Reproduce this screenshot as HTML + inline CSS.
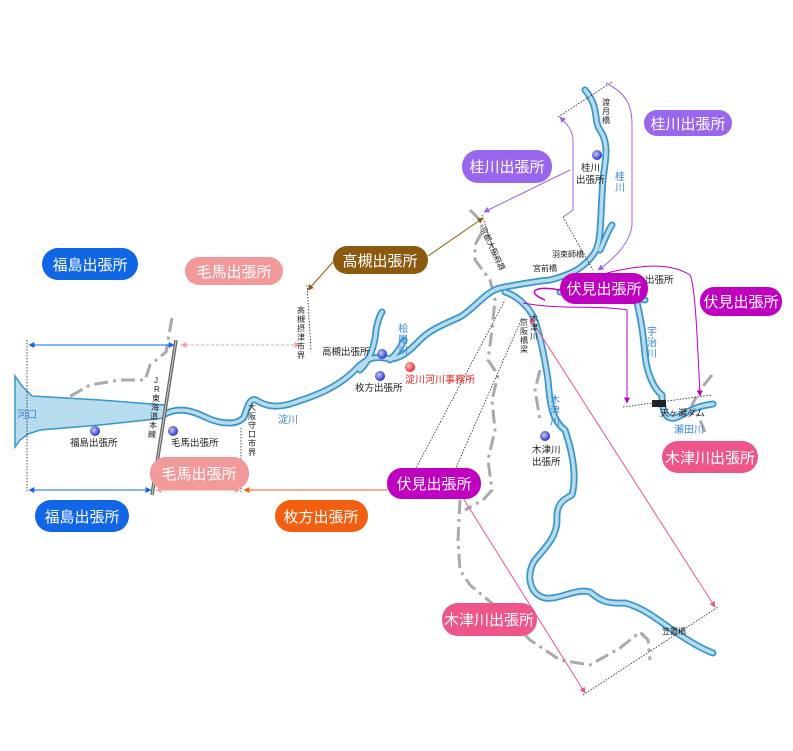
<!DOCTYPE html>
<html><head><meta charset="utf-8"><style>
html,body{margin:0;padding:0;background:#fff;}
svg{display:block;font-family:"Liberation Sans","Noto Sans CJK JP",sans-serif;}
.pl{fill:#fff;font-size:15px;text-anchor:middle;}
.sm{font-size:9.5px;fill:#222;}
.bl{font-size:10px;fill:#3a86d8;}
.gb{fill:none;stroke:#aaa;stroke-width:3;stroke-dasharray:14,5,3,5;}
.dt{fill:none;stroke:#222;stroke-width:0.8;stroke-dasharray:1.5,1.5;}
.ro{fill:none;stroke:#3a96c8;stroke-linecap:round;stroke-linejoin:round;}
.ri{fill:none;stroke:#b6dcee;stroke-linecap:round;stroke-linejoin:round;}
</style></head><body>
<svg width="793" height="751" viewBox="0 0 793 751">
<defs>
<marker id="ab" viewBox="0 0 10 10" refX="9" refY="5" markerWidth="6" markerHeight="6" orient="auto-start-reverse"><path d="M0,0L10,5L0,10z" fill="#1166ee"/></marker>
<marker id="ap" viewBox="0 0 10 10" refX="9" refY="5" markerWidth="6" markerHeight="6" orient="auto-start-reverse"><path d="M0,0L10,5L0,10z" fill="#f0a0a8"/></marker>
<marker id="ao" viewBox="0 0 10 10" refX="9" refY="5" markerWidth="6" markerHeight="6" orient="auto-start-reverse"><path d="M0,0L10,5L0,10z" fill="#f06010"/></marker>
<marker id="abr" viewBox="0 0 10 10" refX="9" refY="5" markerWidth="6" markerHeight="6" orient="auto-start-reverse"><path d="M0,0L10,5L0,10z" fill="#8b5a0f"/></marker>
<marker id="apu" viewBox="0 0 10 10" refX="9" refY="5" markerWidth="6" markerHeight="6" orient="auto-start-reverse"><path d="M0,0L10,5L0,10z" fill="#9966ee"/></marker>
<marker id="am" viewBox="0 0 10 10" refX="9" refY="5" markerWidth="6" markerHeight="6" orient="auto-start-reverse"><path d="M0,0L10,5L0,10z" fill="#c000c0"/></marker>
<marker id="ak" viewBox="0 0 10 10" refX="9" refY="5" markerWidth="6" markerHeight="6" orient="auto-start-reverse"><path d="M0,0L10,5L0,10z" fill="#ee5588"/></marker>
<radialGradient id="bd" cx="0.4" cy="0.4" r="0.6"><stop offset="0" stop-color="#ccd"/><stop offset="1" stop-color="#2233dd"/></radialGradient>
<radialGradient id="rd" cx="0.4" cy="0.4" r="0.6"><stop offset="0" stop-color="#fcc"/><stop offset="1" stop-color="#e22"/></radialGradient>
</defs>

<path class="gb" d="M172,318 L168,340 L166,352 L150,365 L145,380 L120,380 L90,385 L55,405"/>
<path class="gb" d="M470,210 L480,220 L483,230 L475,245 L475,260 L490,280 L495,300 L492,330 L488,360 L498,375 L492,400 L495,430 L488,460 L492,490 L483,500 L465,510"/>
<path class="gb" d="M460,500 L458,540 L460,570 L470,585 L500,610 L530,640 L560,660 L590,665 L620,648 L640,632 L648,640 L650,660"/>
<path class="gb" d="M712,375 L700,390 L692,405 L700,420 L705,432"/>
<path class="gb" d="M540,370 L535,390 L540,420"/>

<g class="ro" stroke-width="7">
<path d="M165,414 C180,406 195,412 205,417 C222,425 238,425 244,417 C248,405 250,398 256,400 C265,406 275,408 290,404 C315,396 338,388 357,368 C365,360 372,356 385,358 C400,362 412,348 420,340 C430,330 440,326 460,317 C475,308 485,292 500,288 C515,285 530,282 550,280 C570,275 585,268 595,252 C602,240 600,215 603,180 C605,160 610,145 600,130 C593,120 600,108 585,90"/>
<path d="M360,370 C370,360 375,345 376,330 C378,320 380,315 382,312"/>
<path d="M390,360 C398,352 402,345 404,340"/>
<path d="M560,292 C600,296 620,292 645,300"/>
<path d="M636,298 C640,315 643,330 645,355 C647,375 655,390 662,395 C662,410 665,420 675,418 C685,415 690,407 713,404"/>
<path d="M505,292 C515,295 528,305 534,318 C540,335 545,360 548,380 C550,405 552,420 565,430 C575,460 576,480 572,495 C562,500 556,505 557,520 C557,535 548,545 535,560 C525,575 530,595 545,598 C560,600 575,588 590,592 C600,600 605,604 625,603 C645,608 660,622 680,635 C695,645 705,650 713,653"/>
<path d="M600,250 C605,240 608,230 612,225"/>
</g>
<path d="M15,376 L22,386 L32,396 L100,400 L165,405 L165,418 L100,425 L40,430 L28,434 L20,440 L15,447 Z" fill="#b6dcee" stroke="#3a96c8" stroke-width="1.5"/>
<g class="ri" stroke-width="3.5">
<path d="M165,414 C180,406 195,412 205,417 C222,425 238,425 244,417 C248,405 250,398 256,400 C265,406 275,408 290,404 C315,396 338,388 357,368 C365,360 372,356 385,358 C400,362 412,348 420,340 C430,330 440,326 460,317 C475,308 485,292 500,288 C515,285 530,282 550,280 C570,275 585,268 595,252 C602,240 600,215 603,180 C605,160 610,145 600,130 C593,120 600,108 585,90"/>
<path d="M360,370 C370,360 375,345 376,330 C378,320 380,315 382,312"/>
<path d="M390,360 C398,352 402,345 404,340"/>
<path d="M560,292 C600,296 620,292 645,300"/>
<path d="M636,298 C640,315 643,330 645,355 C647,375 655,390 662,395 C662,410 665,420 675,418 C685,415 690,407 713,404"/>
<path d="M505,292 C515,295 528,305 534,318 C540,335 545,360 548,380 C550,405 552,420 565,430 C575,460 576,480 572,495 C562,500 556,505 557,520 C557,535 548,545 535,560 C525,575 530,595 545,598 C560,600 575,588 590,592 C600,600 605,604 625,603 C645,608 660,622 680,635 C695,645 705,650 713,653"/>
<path d="M600,250 C605,240 608,230 612,225"/>
</g>

<path d="M176,340 L152,495" stroke="#666" stroke-width="3.5" fill="none"/>
<path d="M176,340 L152,495" stroke="#ccc" stroke-width="1" fill="none"/>
<rect x="652" y="400" width="14" height="7" fill="#222"/>

<path class="dt" d="M27,340 L27,493"/>
<path class="dt" d="M241,428 L241,492"/>
<path class="dt" d="M307,285 L311,350"/>
<path class="dt" d="M415,470 L505,300"/>
<path class="dt" d="M455,470 L522,318"/>
<path class="dt" d="M583,695 L718,607"/>
<path class="dt" d="M623,407 L712,395"/>
<path class="dt" d="M558,117 L612,82"/>
<path class="dt" d="M563,217 L593,270"/>
<path class="dt" d="M482,215 L500,270"/>

<path d="M29,345 L174,345" stroke="#1166ee" stroke-width="1" marker-start="url(#ab)" marker-end="url(#ab)"/>
<path d="M29,490 L151,490" stroke="#1166ee" stroke-width="1" marker-start="url(#ab)" marker-end="url(#ab)"/>
<path d="M181,345 L300,345" stroke="#f0a0a8" stroke-width="1" stroke-dasharray="3,2" marker-start="url(#ap)" marker-end="url(#ap)"/>
<path d="M156,490 L240,490" stroke="#f0a0a8" stroke-width="1" marker-start="url(#ap)" marker-end="url(#ap)"/>
<path d="M387,490 L244,490" stroke="#f06010" stroke-width="1" marker-end="url(#ao)"/>
<path d="M333,262 L308,290" stroke="#8b5a0f" stroke-width="1" marker-end="url(#abr)"/>
<path d="M428,256 L483,218" stroke="#8b5a0f" stroke-width="1" marker-end="url(#abr)"/>
<path d="M570,170 L484,212" stroke="#9966ee" stroke-width="1" marker-end="url(#apu)"/>
<path d="M563,217 L573,210 L573,140 C573,130 565,122 560,117" stroke="#9966ee" stroke-width="1" fill="none" marker-end="url(#apu)"/>
<path d="M606,83 C630,95 632,110 632,125 L632,225 C630,245 610,262 598,270" stroke="#9966ee" stroke-width="1" fill="none" marker-end="url(#apu)"/>
<path d="M545,300 C525,292 535,285 560,290" stroke="#c000c0" stroke-width="1.5" fill="none"/>
<path d="M523,303 C560,310 600,305 627,310 L627,403" stroke="#c000c0" stroke-width="1" fill="none" marker-end="url(#am)"/>
<path d="M607,273 C640,265 670,262 690,275 C695,285 697,330 700,396" stroke="#c000c0" stroke-width="1" fill="none" marker-end="url(#am)"/>
<path d="M463,498 L585,693" stroke="#ee5588" stroke-width="1" marker-end="url(#ak)"/>
<path d="M530,318 L715,607" stroke="#ee5588" stroke-width="1" marker-start="url(#ak)" marker-end="url(#ak)"/>

<circle cx="95" cy="431" r="5" fill="url(#bd)"/>
<circle cx="173" cy="431" r="5" fill="url(#bd)"/>
<circle cx="382" cy="354" r="5" fill="url(#bd)"/>
<circle cx="380" cy="376" r="5" fill="url(#bd)"/>
<circle cx="410" cy="367" r="5" fill="url(#rd)"/>
<circle cx="597" cy="155" r="5" fill="url(#bd)"/>
<circle cx="545" cy="436" r="5" fill="url(#bd)"/>

<text class="sm" x="70" y="446">福島出張所</text>
<text class="sm" x="171" y="446">毛馬出張所</text>
<text class="sm" x="322" y="355">高槻出張所</text>
<text class="sm" x="355" y="391">枚方出張所</text>
<text x="405" y="383" style="font-size:10px;fill:#e22">淀川河川事務所</text>
<text class="sm" x="581" y="171">桂川</text>
<text class="sm" x="576" y="183">出張所</text>
<text class="sm" x="532" y="453">木津川</text>
<text class="sm" x="532" y="465">出張所</text>
<text class="sm" x="645" y="283">出張所</text>
<text class="sm" x="552" y="257" style="font-size:8px">羽束師橋</text>
<text class="sm" x="533" y="271" style="font-size:8px">宮前橋</text>
<text class="sm" x="662" y="634" style="font-size:8px">笠置橋</text>
<text class="sm" x="660" y="416" style="font-size:9px">天ヶ瀬ダム</text>
<text class="bl" x="17" y="418">河口</text>
<text class="bl" x="278" y="423">淀川</text>
<text class="bl" x="674" y="433">瀬田川</text>
<g class="bl" style="font-size:10px">
<text x="398" y="332">桧</text><text x="398" y="343">尾</text><text x="398" y="354">川</text>
<text x="615" y="180">桂</text><text x="615" y="191">川</text>
<text x="647" y="335">宇</text><text x="647" y="346">治</text><text x="647" y="357">川</text>
<text x="550" y="403">木</text><text x="550" y="414">津</text><text x="550" y="425">川</text>
</g>
<g class="sm" style="font-size:8px">
<text x="602" y="105">渡</text><text x="602" y="114">月</text><text x="602" y="123">橋</text>
<text x="520" y="325">京</text><text x="520" y="334">阪</text><text x="520" y="343">橋</text><text x="520" y="352">梁</text>
<text x="530" y="321">木</text><text x="530" y="330">津</text><text x="530" y="339">川</text>
<text x="248" y="410">大</text><text x="248" y="419">阪</text><text x="248" y="428">守</text><text x="248" y="437">口</text><text x="248" y="446">市</text><text x="248" y="455">界</text>
<text x="297" y="313">高</text><text x="297" y="322">槻</text><text x="297" y="331">摂</text><text x="297" y="340">津</text><text x="297" y="349">市</text><text x="297" y="358">界</text>
<text x="154" y="383">J</text><text x="154" y="392">R</text><text x="152" y="401">東</text><text x="151" y="410">海</text><text x="150" y="419">道</text><text x="149" y="428">本</text><text x="148" y="437">線</text>
<text transform="translate(480,228) rotate(65)">京都大阪府界</text>
</g>

<g>
<rect x="42" y="248" width="96" height="32" rx="16" fill="#1166e6"/><text class="pl" x="90" y="270">福島出張所</text>
<rect x="185" y="257" width="98" height="28" rx="14" fill="#f29a9a"/><text class="pl" x="234" y="277">毛馬出張所</text>
<rect x="333" y="246" width="95" height="28" rx="14" fill="#8b5a0f"/><text class="pl" x="380" y="266">高槻出張所</text>
<rect x="462" y="150" width="90" height="33" rx="16" fill="#9966ee"/><text class="pl" x="507" y="172">桂川出張所</text>
<rect x="644" y="110" width="88" height="26" rx="13" fill="#9966ee"/><text class="pl" x="688" y="129">桂川出張所</text>
<rect x="560" y="273" width="88" height="31" rx="15" fill="#c000c0"/><text class="pl" x="604" y="294">伏見出張所</text>
<rect x="700" y="287" width="82" height="29" rx="14" fill="#c000c0"/><text class="pl" x="741" y="307">伏見出張所</text>
<rect x="662" y="441" width="96" height="32" rx="16" fill="#ee5588"/><text class="pl" x="710" y="463">木津川出張所</text>
<rect x="150" y="457" width="99" height="33" rx="16" fill="#f29a9a"/><text class="pl" x="199" y="479">毛馬出張所</text>
<rect x="35" y="500" width="94" height="32" rx="16" fill="#1166e6"/><text class="pl" x="82" y="522">福島出張所</text>
<rect x="275" y="500" width="93" height="32" rx="16" fill="#f06010"/><text class="pl" x="321" y="522">枚方出張所</text>
<rect x="387" y="468" width="94" height="31" rx="15" fill="#c000c0"/><text class="pl" x="434" y="489">伏見出張所</text>
<rect x="442" y="603" width="95" height="33" rx="16" fill="#ee5588"/><text class="pl" x="489" y="625">木津川出張所</text>
</g>
</svg>
</body></html>
